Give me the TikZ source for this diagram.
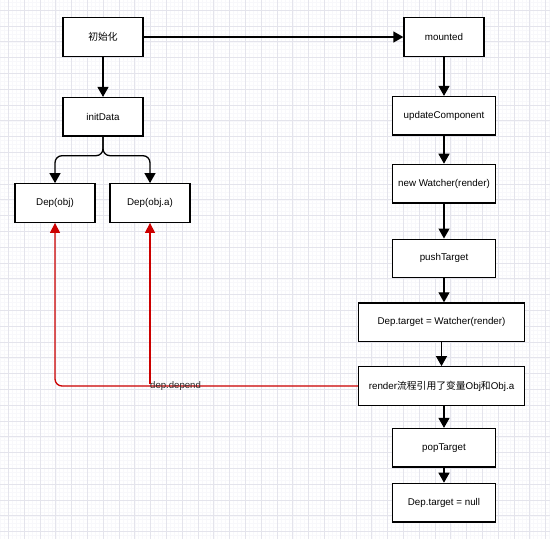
\documentclass[tikz,border=0pt]{standalone}
\usepackage{fontspec}
\setmainfont{Liberation Sans}
\newfontfamily\cjk{Noto Sans CJK SC}
\usepackage{tikz}
\usetikzlibrary{arrows.meta, positioning, calc}
\usepackage{xcolor}
\definecolor{depRed}{HTML}{CC0000}
\definecolor{gridMajor}{HTML}{E4E4EC}
\definecolor{gridMinor}{HTML}{F8F8FB}
\definecolor{lblGray}{HTML}{2A2A2A}

\begin{document}
\begin{tikzpicture}[
    x=1pt, y=1pt,
    box/.style={rectangle, draw, line width=1.3pt, fill=white, minimum width=80pt, minimum height=38.5pt, align=center, font=\fontsize{9.8}{11}\selectfont, inner sep=2pt},
    wide/.style={box, minimum width=103pt},
    wider/.style={box, minimum width=166pt},
    arr/.style={draw, line width=1.3pt, -{Triangle[length=10pt, width=11pt]}},
    redarr/.style={draw=depRed, line width=1.3pt, -{Triangle[length=10pt, width=10pt, fill=depRed]}},
    lbl/.style={font=\fontsize{9.6}{11}\selectfont, text=lblGray, inner sep=0pt},
]
    \useasboundingbox (0,0) rectangle (550,-539);
    \fill[white] (0,0) rectangle (550,-539);
    \begin{scope}[shift={(8.3,-10.1)}]
        \draw[gridMinor, line width=0.4pt, step=3.95pt] (-9,11) grid (542,-529);
        \draw[gridMajor, line width=0.6pt, step=15.8pt] (-9,11) grid (542,-529);
    \end{scope}

    \node[box] (init) at (103,-37) {\cjk 初始化};
    \node[box] (mounted) at (444,-37) {mounted};
    \node[box, below=40pt of init] (initData) {initData};
    \node[box] (depObj) at (55,-203) {Dep(obj)};
    \node[box] (depObjA) at (150,-203) {Dep(obj.a)};

    \node[wide, below=39pt of mounted] (update) {updateComponent};
    \node[wide, below=28pt of update] (newWatcher) {new Watcher(render)};
    \node[wide, below=35pt of newWatcher] (pushT) {pushTarget};
    \node[wider, below=24pt of pushT, xshift=-2.5pt] (depTarget) {Dep.target = Watcher(render)};
    \node[wider, below=24pt of depTarget] (renderRef) {render{\cjk 流程引用了变量}Obj{\cjk 和}Obj.a};
    \node[wide, below=22pt of renderRef, xshift=2.5pt] (popT) {popTarget};
    \node[wide, below=15pt of popT] (depNull) {Dep.target = null};

    \coordinate (split) at ($(initData.south)+(0,-19)$);
    \coordinate (tap) at ($(depObjA.south |- renderRef.west)+(0,2)$);

    \draw[arr] (init) -- (mounted);
    \draw[arr] (init) -- (initData);
    \draw[arr, rounded corners=7pt] (initData.south) |- (split -| depObj.north) -- (depObj.north);
    \draw[arr, rounded corners=7pt] (initData.south) |- (split -| depObjA.north) -- (depObjA.north);
    \draw[arr] (mounted) -- (update);
    \draw[arr] (update) -- (newWatcher);
    \draw[arr] (newWatcher) -- (pushT);
    \draw[arr] (pushT.south) -- (pushT.south |- depTarget.north);
    \draw[arr] (depTarget) -- (renderRef);
    \draw[arr] (renderRef.south -| popT.north) -- (popT.north);
    \draw[arr] (popT) -- (depNull);

    \draw[redarr, rounded corners=7pt] (renderRef.west) -| (depObj.south);
    \draw[redarr] (tap) -- (depObjA.south);
    \node[lbl, anchor=west] (depLabel) at (depObjA.south |- renderRef.west) {dep.depend};
\end{tikzpicture}
\end{document}
